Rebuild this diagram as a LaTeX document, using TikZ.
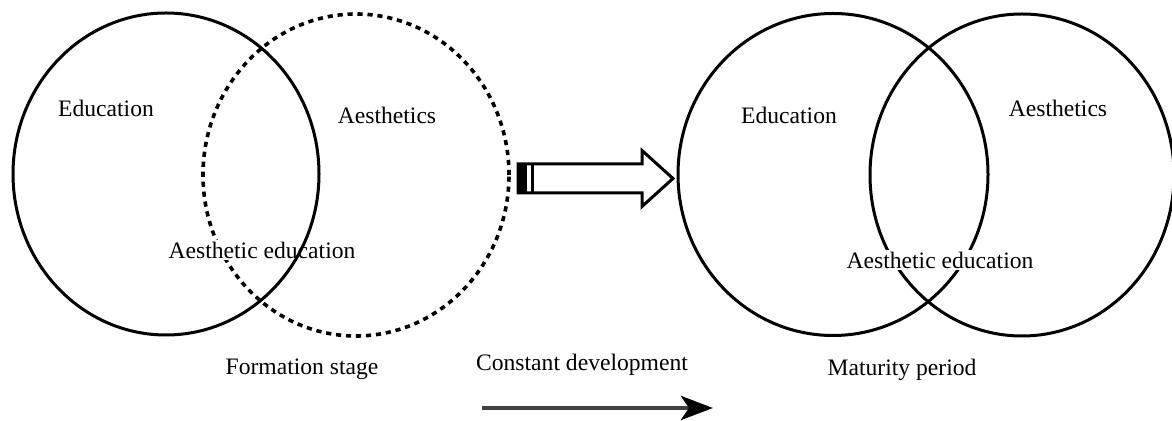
\documentclass[tikz,border=0pt]{standalone}
\usepackage{fontspec}
\setmainfont{Liberation Serif}
\usetikzlibrary{shapes.geometric,arrows.meta}

\begin{document}
\begin{tikzpicture}[x=0.5pt, y=-0.5pt,
  ring/.style={ellipse, draw, line width=1.5pt, minimum width=153pt, minimum height=161pt, inner sep=0pt},
  lbl/.style={font=\fontsize{11.8}{14}\selectfont, inner sep=1pt}]
  \useasboundingbox (0,0) rectangle (1172,421);

  % formation stage
  \node[ring, line width=1.8pt, dash pattern=on 2.6pt off 2.4pt] (A1) at (356,175) {};
  \node[lbl, fill=white] (AE1) at (262,250) {Aesthetic education};
  \node[ring] (E1) at (166,174) {};
  \node[lbl] (Ed1) at (106,108) {Education};
  \node[lbl] (As1) at (387,115) {Aesthetics};
  \node[lbl] (Form) at (302,369) {Formation stage};

  % maturity period
  \node[ring, minimum width=155pt] (E2) at (833,174.5) {};
  \node[ring, minimum width=152pt] (A2) at (1022,175) {};
  \node[lbl, fill=white] (AE2) at (940,260) {Aesthetic education};
  \node[lbl] (Ed2) at (789,115) {Education};
  \node[lbl] (As2) at (1058,108) {Aesthetics};
  \node[lbl] (Mat) at (902,370) {Maturity period};

  % hollow arrow between the stages
  \coordinate (tail) at (518,178.5);
  \draw[line width=1.5pt, fill=white, line join=miter]
    (tail) ++(0,-14.5) -- ++(124,0) -- ++(0,-13.5) -- ++(31,28) -- ++(-31,28)
    -- ++(0,-13.5) -- ++(-124,0) -- cycle;
  \fill (tail) ++(0,-14.5) rectangle ++(9,29);
  \fill (tail) ++(12.5,-14.5) rectangle ++(3,29);

  % development arrow
  \node[lbl] (Dev) at (582,365) {Constant development};
  \coordinate (devA) at (482,408);
  \coordinate (devB) at (713,408);
  \draw[black!75, line width=2.4pt, -{Stealth[length=16pt, width=12pt, inset=4pt, black]}] (devA) -- (devB);
\end{tikzpicture}
\end{document}
